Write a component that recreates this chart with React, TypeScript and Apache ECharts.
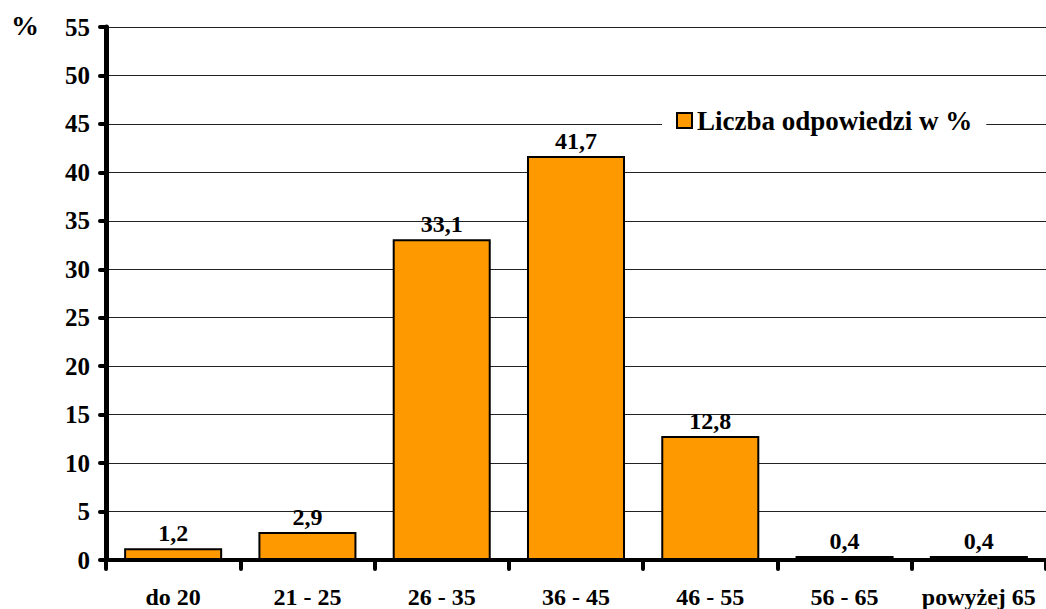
import React, { useEffect, useRef } from "react";
import * as echarts from "echarts";

const categories = ["do 20", "21 - 25", "26 - 35", "36 - 45", "46 - 55", "56 - 65", "powyżej 65"];
const values = [1.2, 2.9, 33.1, 41.7, 12.8, 0.4, 0.4];
const seriesName = "Liczba odpowiedzi w %";
const yUnit = "%";

const FONT = "Liberation Serif";

export default function App() {
  const ref = useRef<HTMLDivElement>(null);
  useEffect(() => {
    if (!ref.current) return;
    const chart = echarts.init(ref.current, undefined, { renderer: "svg" });
    chart.setOption({
      animation: false,
      backgroundColor: "#ffffff",
      textStyle: { fontFamily: FONT },
      grid: { left: 106, top: 27, width: 945, height: 534, containLabel: false },
      legend: {
        data: [seriesName],
        left: 662,
        top: 104,
        backgroundColor: "#ffffff",
        padding: [3, 14, 3, 14],
        itemWidth: 15,
        itemHeight: 15,
        itemGap: 7,
        icon: "rect",
        textStyle: { fontFamily: FONT, fontWeight: "bold", fontSize: 27, color: "#000" },
      },
      graphic: [
        {
          type: "text",
          left: 11,
          top: 11,
          style: { text: yUnit, fontFamily: FONT, fontWeight: "bold", fontSize: 28, fill: "#000" },
        },
      ],
      xAxis: {
        type: "category",
        data: categories,
        axisLine: { lineStyle: { color: "#000", width: 4 } },
        axisTick: { show: true, interval: 0, length: 9, lineStyle: { color: "#000", width: 4, cap: "round" } },
        axisLabel: { interval: 0, margin: 25, fontFamily: FONT, fontWeight: "bold", fontSize: 24, color: "#000" },
      },
      yAxis: {
        type: "value",
        min: 0,
        max: 55,
        interval: 5,
        axisLine: { show: true, lineStyle: { color: "#000", width: 5 } },
        axisTick: { show: true, length: 6, lineStyle: { color: "#000", width: 4, cap: "round" } },
        axisLabel: { margin: 16, fontFamily: FONT, fontWeight: "bold", fontSize: 25, color: "#000" },
        splitLine: { show: true, lineStyle: { color: "#222", width: 1 } },
      },
      series: [
        {
          name: seriesName,
          type: "bar",
          data: values,
          barCategoryGap: "27%",
          itemStyle: { color: "#FF9900", borderColor: "#000", borderWidth: 2 },
          label: {
            show: true,
            position: "top",
            distance: 3,
            fontFamily: FONT,
            fontWeight: "bold",
            fontSize: 24,
            color: "#000",
            formatter: (p: any) => String(p.value).replace(".", ","),
          },
        },
      ],
    });
    return () => chart.dispose();
  }, []);
  return (
    <div
      ref={ref}
      style={{ position: "absolute", left: 0, top: 0, width: 1046, height: 609, background: "#fff" }}
    />
  );
}
